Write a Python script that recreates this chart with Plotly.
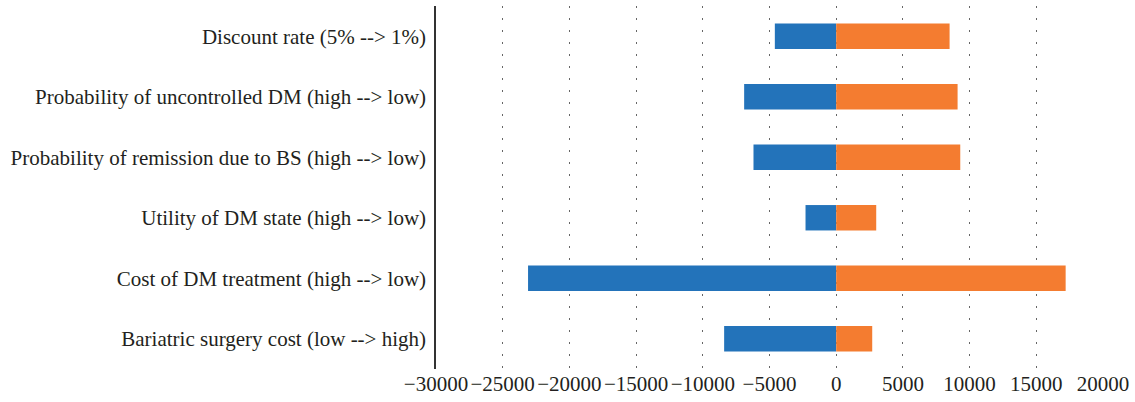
import plotly.graph_objects as go

categories = [
    "Discount rate (5% --> 1%)",
    "Probability of uncontrolled DM (high --> low)",
    "Probability of remission due to BS (high --> low)",
    "Utility of DM state (high --> low)",
    "Cost of DM treatment (high --> low)",
    "Bariatric surgery cost (low --> high)",
]
low_values = [-4600, -6900, -6200, -2300, -23100, -8400]
high_values = [8500, 9100, 9300, 3000, 17200, 2700]
x_ticks = [-30000, -25000, -20000, -15000, -10000, -5000, 0, 5000, 10000, 15000, 20000]

fig = go.Figure()
fig.add_trace(go.Bar(y=categories, x=low_values, orientation="h",
                     marker=dict(color="#2373ba", line=dict(width=0)), name="low"))
fig.add_trace(go.Bar(y=categories, x=high_values, orientation="h",
                     marker=dict(color="#f47c30", line=dict(width=0)), name="high"))

fig.update_layout(
    width=1135, height=402,
    margin=dict(l=436, r=32, t=6, b=30),
    barmode="relative",
    bargap=0.58,
    showlegend=False,
    plot_bgcolor="white",
    paper_bgcolor="white",
    font=dict(family="Liberation Serif", size=21, color="#231f20"),
)
fig.update_xaxes(
    range=[-30000, 20000],
    tickvals=x_ticks,
    tickformat="d",
    showgrid=True, gridcolor="#666666", gridwidth=1, griddash="1.5px,10.5px",
    zeroline=False, showline=False, ticks="",
    tickfont=dict(size=21),
)
fig.update_yaxes(
    autorange="reversed",
    showline=True, linecolor="#333333", linewidth=1.5,
    showgrid=False, ticks="", ticklabelstandoff=4,
    tickfont=dict(size=21),
)

fig.write_html("out.html", config={"displayModeBar": False},
               post_script="document.body.style.margin='0';")
